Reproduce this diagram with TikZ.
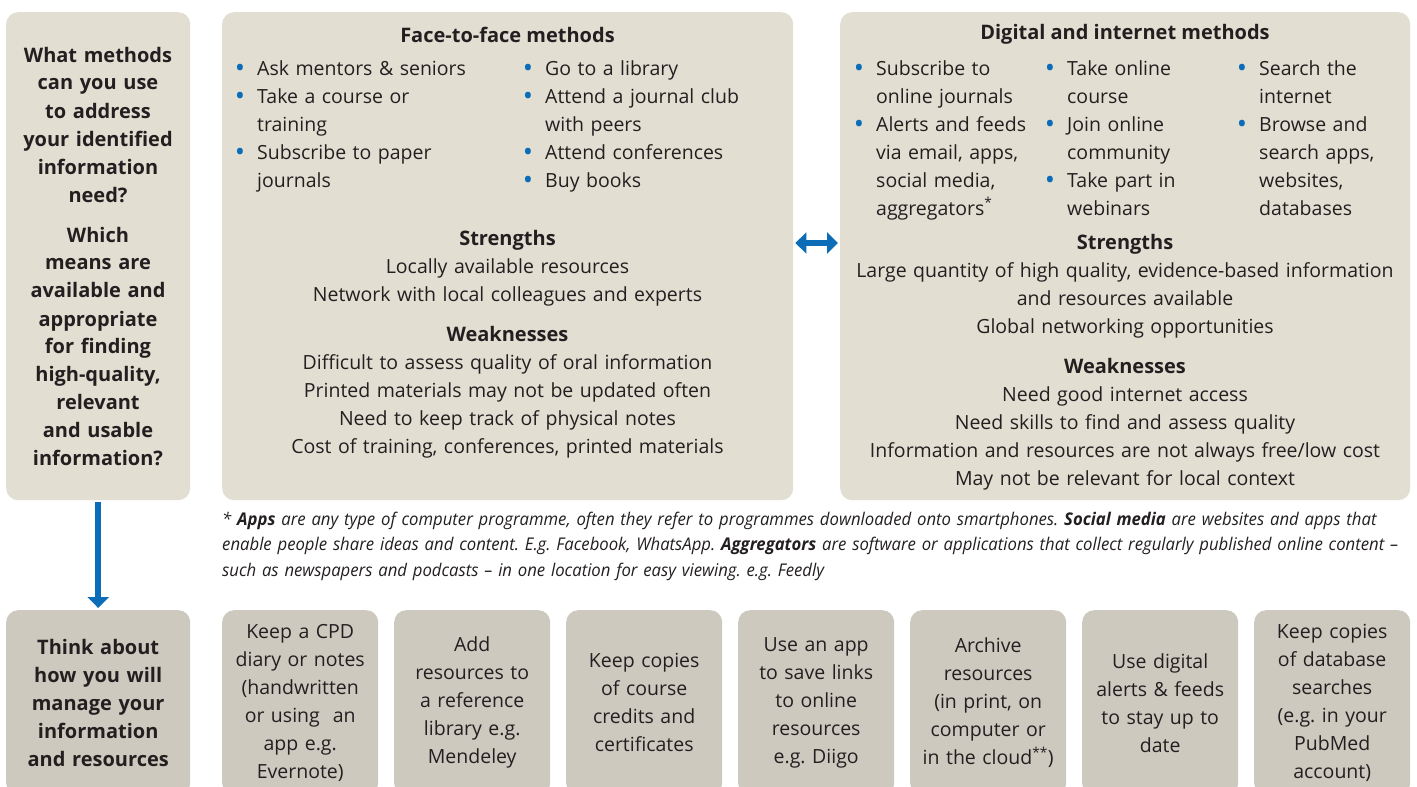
\documentclass[tikz,border=0pt]{standalone}
\usepackage{fontspec}
\setmainfont{Open Sans}
\newfontfamily\footfont[FakeStretch=0.955]{Open Sans}
\usetikzlibrary{arrows.meta}
\definecolor{topfill}{HTML}{E3DED2}
\definecolor{botfill}{HTML}{CDC9BF}
\definecolor{accent}{HTML}{0B6DB8}
\definecolor{ink}{HTML}{231F20}
\newcommand\bul{\leavevmode\llap{\textcolor{accent}{\raisebox{-2.5pt}{\scalebox{1.4}{•}}}\hspace{12pt}}}
\newcommand\bodyfont{\fontsize{19.5}{28}\selectfont}
\newcommand\boldfont{\fontsize{20}{28}\selectfont\bfseries}
\frenchspacing
\begin{document}
\begin{tikzpicture}[x=1pt,y=-1pt,
  every node/.append style={text=ink},
  tbox/.style={fill=topfill, rounded corners=12pt, anchor=north west, inner sep=0pt},
  bbox/.style={fill=botfill, rounded corners=12pt, anchor=north west, inner sep=2pt,
    minimum width=156pt, minimum height=185pt, text width=150pt, align=center, font=\bodyfont},
  txt/.style={inner sep=0pt, font=\bodyfont},
  conn/.style={draw=accent, line width=6.5pt, shorten <=2pt, shorten >=2pt}
]
\clip (0,0) rectangle (1417,787);
\fill[white] (0,0) rectangle (1417,787);

% top boxes
\node[tbox, minimum width=184pt, minimum height=488pt] (q1) at (6,12) {};
\node[tbox, minimum width=571pt, minimum height=488pt] (ftf) at (222,12) {};
\node[tbox, minimum width=570pt, minimum height=488pt] (dig) at (840,12) {};

% left question
\node[txt, anchor=base, text width=184pt, align=center, font=\boldfont] (q1t) at (98,62)
 {What methods\\can you use\\to address\\your identified\\information\\need?\\[12pt]
  Which\\means are\\available and\\appropriate\\for finding\\high-quality,\\relevant\\and usable\\information?};

% face-to-face
\node[txt, anchor=base, font=\boldfont] (ftfh) at (507.5,42) {Face-to-face methods};
\node[txt, anchor=base west, text width=260pt, align=left] (ftfc1) at (257,75)
 {\bul Ask mentors \& seniors\\\bul Take a course or\\training\\\bul Subscribe to paper\\journals};
\node[txt, anchor=base west, text width=240pt, align=left] (ftfc2) at (545,75)
 {\bul Go to a library\\\bul Attend a journal club\\with peers\\\bul Attend conferences\\\bul Buy books};
\node[txt, anchor=base, text width=560pt, align=center] (ftfsw) at (507.5,245)
 {{\boldfont Strengths}\\Locally available resources\\Network with local colleagues and experts\\[12pt]
  {\boldfont Weaknesses}\\Difficult to assess quality of oral information\\Printed materials may not be updated often\\
  Need to keep track of physical notes\\Cost of training, conferences, printed materials};

% digital
\node[txt, anchor=base, font=\boldfont] (digh) at (1125,39) {Digital and internet methods};
\node[txt, anchor=base west, text width=170pt, align=left] (digc1) at (876,75)
 {\bul Subscribe to\\online journals\\\bul Alerts and feeds\\via email, apps,\\social media,\\aggregators\textsuperscript{*}};
\node[txt, anchor=base west, text width=170pt, align=left] (digc2) at (1067,75)
 {\bul Take online\\course\\\bul Join online\\community\\\bul Take part in\\webinars};
\node[txt, anchor=base west, text width=150pt, align=left] (digc3) at (1259,75)
 {\bul Search the\\internet\\\bul Browse and\\search apps,\\websites,\\databases};
\node[txt, anchor=base, text width=560pt, align=center] (digsw) at (1125,249)
 {{\boldfont Strengths}\\Large quantity of high quality, evidence-based information\\and resources available\\Global networking opportunities\\[12pt]
  {\boldfont Weaknesses}\\Need good internet access\\Need skills to find and assess quality\\
  Information and resources are not always free/low cost\\May not be relevant for local context};

% footnote
\node[inner sep=0pt, anchor=base west, text width=1195pt, align=left,
  font=\footfont\itshape\fontsize{17.5}{25.5}\selectfont] (foot) at (222,525)
 {* \textbf{Apps} are any type of computer programme, often they refer to programmes downloaded onto smartphones. \textbf{Social media} are websites and apps that\\
  enable people share ideas and content. E.g. Facebook, WhatsApp. \textbf{Aggregators} are software or applications that collect regularly published online content –\\
  such as newspapers and podcasts – in one location for easy viewing. e.g. Feedly};

% bottom row
\node[bbox, minimum width=184pt, text width=178pt, font=\boldfont] (q2) at (6,610)
 {Think about\\how you will\\manage your\\information\\and resources};
\node[bbox] (b1) at (222,610) {Keep a CPD\\diary or notes\\(handwritten\\or using\ \ an\\app e.g.\\Evernote)};
\node[bbox] (b2) at (394,610) {Add\\resources to\\a reference\\library e.g.\\Mendeley};
\node[bbox] (b3) at (566,610) {Keep copies\\of course\\credits and\\certificates};
\node[bbox] (b4) at (738,610) {Use an app\\to save links\\to online\\resources\\e.g. Diigo};
\node[bbox] (b5) at (910,610) {Archive\\resources\\(in print, on\\computer or\\in the cloud\textsuperscript{**})};
\node[bbox] (b6) at (1082,610) {Use digital\\alerts \& feeds\\to stay up to\\date};
\node[bbox] (b7) at (1254,610) {Keep copies\\of database\\searches\\(e.g. in your\\PubMed\\account)};

% connectors
\draw[conn, -{Triangle[length=11pt,width=21pt]}] (q1.south) -- (q2.north);
\coordinate (ay) at (0,243);
\draw[conn, {Triangle[length=11pt,width=21pt]}-{Triangle[length=11pt,width=21pt]}] (ftf.east |- ay) -- (dig.west |- ay);
\end{tikzpicture}
\end{document}
